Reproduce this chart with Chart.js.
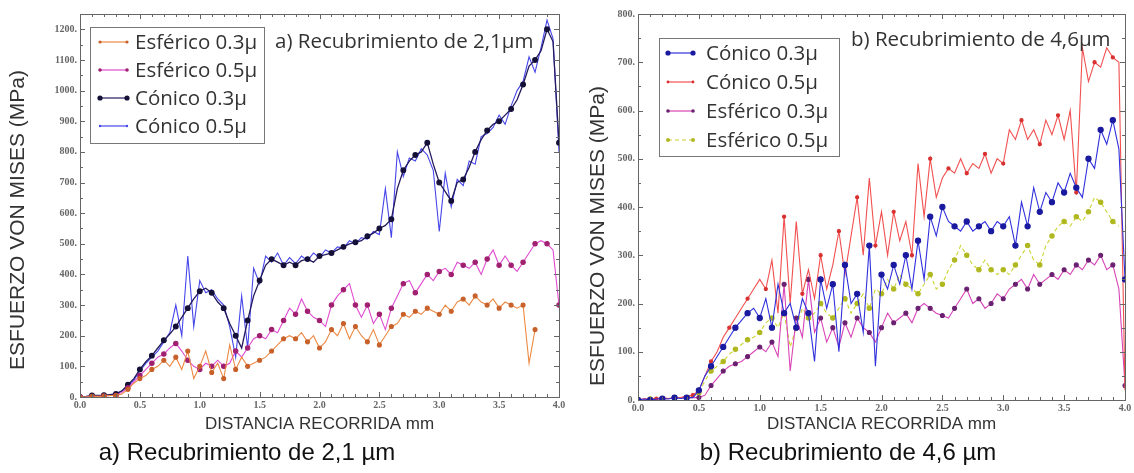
<!DOCTYPE html>
<html>
<head>
<meta charset="utf-8">
<script src="https://cdn.jsdelivr.net/npm/chart.js@4.4.1/dist/chart.umd.min.js"></script>
<style>
    body { margin:0; background:#fff; width:1134px; height:473px; overflow:hidden; position:relative; font-family:'Liberation Sans', Arial, sans-serif; }
    .panel { position:absolute; top:0; height:440px; }
    .caption { position:absolute; top:438px; font-size:24px; color:#111; text-align:center; white-space:nowrap; }
</style>
</head>
<body>
<div class="panel" style="left:0;width:570px"><canvas id="chartA"></canvas></div>
<div class="panel" style="left:570px;width:564px"><canvas id="chartB"></canvas></div>
<div class="caption" style="left:0;width:494px">a) Recubrimiento de 2,1 µm</div>
<div class="caption" style="left:600px;width:496px">b) Recubrimiento de 4,6 µm</div>

<script>
// ===== data: distance (mm) and von Mises stress (MPa) =====
const distancia = [
    0, 0.05, 0.1, 0.15, 0.2, 0.25, 0.3, 0.35, 0.4, 0.45,
    0.5, 0.55, 0.6, 0.65, 0.7, 0.75, 0.8, 0.85, 0.9, 0.95,
    1.0, 1.05, 1.1, 1.15, 1.2, 1.25, 1.3, 1.35, 1.4, 1.45,
    1.5, 1.55, 1.6, 1.65, 1.7, 1.75, 1.8, 1.85, 1.9, 1.95,
    2.0, 2.05, 2.1, 2.15, 2.2, 2.25, 2.3, 2.35, 2.4, 2.45,
    2.5, 2.55, 2.6, 2.65, 2.7, 2.75, 2.8, 2.85, 2.9, 2.95,
    3.0, 3.05, 3.1, 3.15, 3.2, 3.25, 3.3, 3.35, 3.4, 3.45,
    3.5, 3.55, 3.6, 3.65, 3.7, 3.75, 3.8, 3.85, 3.9, 3.95,
    4.0
];
const xTicks = [0, 0.5, 1.0, 1.5, 2.0, 2.5, 3.0, 3.5, 4.0];

// a) Recubrimiento de 2,1 µm
const esferico03A = [
    0, 0, 2, 2, 3, 5, 5, 10, 25, 45,
    60, 70, 90, 100, 120, 100, 130, 90, 150, 60,
    100, 150, 80, 110, 60, 170, 90, 130, 100, 110,
    120, 130, 150, 170, 190, 200, 190, 210, 180, 200,
    160, 180, 220, 200, 240, 190, 230, 200, 180, 220,
    170, 200, 230, 240, 270, 260, 280, 270, 290, 280,
    270, 300, 280, 310, 320, 300, 330, 310, 300, 320,
    290, 310, 300, 290, 300, 110, 220, null, null, null,
    null
];
const esferico05A = [
    0, 0, 2, 2, 3, 5, 5, 15, 30, 50,
    70, 90, 110, 130, 140, 160, 175, 150, 120, 100,
    90, 110, 100, 120, 100, 110, 150, 130, 160, 190,
    200, 190, 220, 210, 250, 290, 270, 320, 280, 260,
    250, 230, 300, 330, 350, 370, 300, 260, 300, 240,
    270, 220, 290, 330, 370, 380, 340, 370, 400, 380,
    410, 420, 400, 440, 430, 420, 440, 400, 450, 480,
    430, 460, 430, 410, 440, 470, 500, 510, 500, 480,
    300
];
const conico03A = [
    0, 2, 5, 5, 6, 8, 10, 20, 40, 60,
    90, 115, 135, 160, 185, 205, 230, 260, 290, 320,
    345, 355, 340, 310, 290, 240, 200, 160, 250, 330,
    380, 430, 450, 440, 430, 440, 430, 445, 450, 440,
    460, 465, 470, 480, 490, 500, 505, 510, 525, 535,
    550, 560, 580, 680, 740, 770, 790, 800, 830, 760,
    700, 670, 640, 700, 710, 750, 800, 840, 870, 890,
    900, 920, 940, 970, 1020, 1080, 1100, 1130, 1200, 1160,
    830
];
const conico05A = [
    0, 0, 5, 5, 5, 5, 10, 20, 35, 55,
    85, 110, 130, 150, 180, 210, 300, 200, 460, 230,
    380, 340, 350, 320, 300, 230, 130, 330, 160, 420,
    370, 460, 440, 470, 430, 455, 435, 460, 445, 470,
    455, 480, 470, 490, 485, 510, 500, 520, 515, 540,
    530, 680, 520, 800, 720, 780, 770, 810, 790, 740,
    540, 730, 620, 710, 690, 770, 760, 850, 860, 880,
    920, 890, 950, 1000, 1030, 1110, 1060, 1140, 1230, 1170,
    800
];

// b) Recubrimiento de 4,6 µm
const conico03B = [
    0, 2, 0, 2, 3, 2, 5, 3, 5, 5,
    20, 50, 70, 90, 110, 130, 150, 165, 180, 190,
    170, 210, 150, 240, 180, 200, 150, 210, 180, 80,
    250, 190, 240, 100, 280, 200, 220, 140, 320, 70,
    260, 230, 280, 240, 300, 230, 330, 250, 380, 340,
    400, 370, 360, 350, 370, 350, 360, 370, 350, 370,
    360, 380, 320, 410, 360, 440, 390, 430, 410, 450,
    430, 470, 440, 420, 500, 480, 560, 530, 580, 520,
    250
];
const conico05B = [
    0, 3, 2, 3, 5, 3, 5, 5, 8, 10,
    20, 50, 80, 100, 130, 150, 170, 190, 210, 230,
    250, 230, 290, 180, 380, 200, 370, 220, 270, 210,
    300, 230, 280, 350, 260, 340, 420, 300, 460, 320,
    390, 300, 390, 330, 370, 300, 490, 380, 500, 420,
    460, 480, 470, 500, 470, 490, 480, 510, 470, 500,
    490, 560, 540, 580, 540, 560, 530, 580, 550, 590,
    540, 600, 430, 730, 660, 700, 690, 730, 710, 700,
    20
];
const esferico03B = [
    0, 0, 0, 2, 2, 3, 3, 5, 5, 5,
    5, 10, 30, 45, 60, 70, 75, 80, 90, 100,
    110, 100, 120, 90, 240, 60, 170, 130, 250, 140,
    170, 120, 150, 110, 160, 130, 170, 150, 140, 120,
    150, 180, 160, 170, 180, 160, 190, 200, 190, 180,
    175, 170, 190, 210, 230, 200, 210, 190, 200, 220,
    210, 230, 240, 250, 230, 260, 240, 250, 260, 250,
    270, 260, 280, 270, 290, 280, 300, 270, 280, 230,
    30
];
const esferico05B = [
    0, 0, 2, 3, 2, 3, 5, 5, 5, 8,
    15, 40, 60, 70, 80, 95, 105, 115, 125, 130,
    140, 160, 170, 150, 180, 110, 150, 190, 170, 180,
    200, 180, 170, 190, 210, 180, 200, 220, 190, 230,
    220, 250, 230, 260, 240, 230, 220, 240, 260, 230,
    240, 270, 290, 320, 300, 280, 270, 290, 270, 260,
    270, 260, 280, 300, 320, 290, 280, 320, 340, 360,
    370, 360, 380, 370, 390, 420, 410, 390, 370, 360,
    null
];

// ===== helpers =====
const pts = ys => distancia.map((x, i) => ({ x: x, y: ys[i] }));

function serie(label, ys, color, dotColor, dotR, every, extra) {
    return Object.assign({
        label: label,
        data: pts(ys),
        borderColor: color,
        backgroundColor: dotColor,
        pointBackgroundColor: dotColor,
        pointBorderColor: dotColor,
        borderWidth: 1.1,
        pointRadius: c => (c.dataIndex % every === 0 ? dotR : 0),
        tension: 0,
        spanGaps: false
    }, extra || {});
}

// frame, inward ticks, y title, in-plot title and boxed legend
const panelDeco = {
    id: 'panelDeco',
    afterDatasetsDraw(chart, args, o) {
        const { ctx, chartArea: a, scales: { x, y } } = chart;
        ctx.save();
        ctx.strokeStyle = '#666';
        ctx.lineWidth = 1;
        ctx.strokeRect(Math.round(a.left) + 0.5, Math.round(a.top) + 0.5, Math.round(a.right - a.left), Math.round(a.bottom - a.top));

        ctx.beginPath();
        for (let v = 0; v <= 40; v++) {
            const px = Math.round(x.getPixelForValue(v / 10)) + 0.5;
            const len = v % 5 === 0 ? 5 : 3;
            ctx.moveTo(px, a.bottom); ctx.lineTo(px, a.bottom - len);
            ctx.moveTo(px, a.top); ctx.lineTo(px, a.top + len);
        }
        for (let v = 0; v <= y.max; v += 50) {
            const py = Math.round(y.getPixelForValue(v)) + 0.5;
            const len = v % 100 === 0 ? 5 : 3;
            ctx.moveTo(a.left, py); ctx.lineTo(a.left + len, py);
            ctx.moveTo(a.right, py); ctx.lineTo(a.right - len, py);
        }
        ctx.stroke();

        // y axis title
        ctx.save();
        ctx.translate(o.yTitleX, o.yTitleY);
        ctx.rotate(-Math.PI / 2);
        ctx.font = "21px 'Liberation Sans'";
        ctx.fillStyle = '#333';
        ctx.textAlign = 'center';
        ctx.textBaseline = 'middle';
        ctx.fillText('ESFUERZO VON MISES (MPa)', 0, 0);
        ctx.restore();

        ctx.fillStyle = '#333';
        ctx.font = o.titleFont;
        ctx.textBaseline = 'middle';
        ctx.fillText(o.title, o.titleX, o.titleY);

        const L = o.legend;
        ctx.fillStyle = '#fff';
        ctx.fillRect(L.x, L.y, L.w, L.h);
        ctx.strokeStyle = '#777';
        ctx.strokeRect(L.x + 0.5, L.y + 0.5, L.w, L.h);
        ctx.font = o.legendFont;
        chart.data.datasets.forEach((d, i) => {
            const yy = L.row0 + i * L.gap;
            ctx.strokeStyle = d.borderColor;
            ctx.lineWidth = 1.2;
            ctx.setLineDash(d.borderDash || []);
            ctx.beginPath(); ctx.moveTo(L.s0, yy); ctx.lineTo(L.s1, yy); ctx.stroke();
            ctx.setLineDash([]);
            ctx.fillStyle = d.pointBackgroundColor;
            [L.s0, L.s1].forEach(sx => { ctx.beginPath(); ctx.arc(sx, yy, d.legendDot, 0, Math.PI * 2); ctx.fill(); });
            ctx.fillStyle = '#333';
            ctx.fillText(d.label, L.tx, yy + 1);
        });
        ctx.restore();
    }
};

function makeChart(id, datasets, yMax, yWidth, xHeight, padRight, deco) {
    new Chart(document.getElementById(id), {
        type: 'line',
        data: { datasets: datasets },
        plugins: [panelDeco],
        options: {
            responsive: true, maintainAspectRatio: false, animation: false,
            layout: { padding: { top: 14, right: padRight, bottom: 0, left: 0 } },
            plugins: { legend: { display: false }, tooltip: { enabled: false }, panelDeco: deco },
            scales: {
                x: {
                    type: 'linear', min: 0, max: 4,
                    afterBuildTicks: s => { s.ticks = xTicks.map(v => ({ value: v })); },
                    afterFit: s => { s.height = xHeight; },
                    grid: { display: false, drawTicks: false }, border: { display: false },
                    ticks: { color: '#666', padding: 2, maxRotation: 0, font: { family: 'Liberation Serif', size: 10, weight: 'bold' }, callback: v => v.toFixed(1) },
                    title: { display: true, text: 'DISTANCIA RECORRIDA mm', color: '#333', padding: { top: 0, bottom: 5 }, font: { family: "'Liberation Sans Narrow', 'Liberation Sans'", size: 17 } }
                },
                y: {
                    min: 0, max: yMax,
                    afterBuildTicks: s => { s.ticks = s.ticks.filter(t => t.value % 100 === 0); },
                    afterFit: s => { s.width = yWidth; },
                    grid: { display: false, drawTicks: false }, border: { display: false },
                    ticks: { stepSize: 100, color: '#666', padding: 3, font: { family: 'Liberation Serif', size: 10, weight: 'bold' }, callback: v => v + '.' },
                    title: { display: false }
                }
            }
        }
    });
}

makeChart('chartA', [
    serie('Esférico 0.3µ', esferico03A, '#ec8a44', '#c8602a', 2, 2, { legendDot: 1.6 }),
    serie('Esférico 0.5µ', esferico05A, '#e04cd0', '#a02070', 2.2, 2, { legendDot: 1.8 }),
    serie('Cónico 0.3µ', conico03A, '#241a5c', '#141038', 2.3, 2, { legendDot: 2.6, borderWidth: 1.3 }),
    serie('Cónico 0.5µ', conico05A, '#4646ea', '#4646ea', 0, 1, { legendDot: 1.2, order: 1 })
], 1250, 80, 43, 11, {
    yTitleX: 18, yTitleY: 220,
    title: 'a) Recubrimiento de 2,1µm', titleX: 275, titleY: 42, titleFont: "20.5px 'Open Sans'",
    legendFont: "20.5px 'Open Sans'",
    legend: { x: 90, y: 27, w: 174, h: 116, row0: 42, gap: 28, s0: 100, s1: 127, tx: 135 }
});

makeChart('chartB', [
    serie('Cónico 0.3µ', conico03B, '#3030dc', '#1a1aa0', 2.6, 2, { legendDot: 2.6 }),
    serie('Cónico 0.5µ', conico05B, '#f25050', '#d83030', 1.6, 3, { legendDot: 1.4 }),
    serie('Esférico 0.3µ', esferico03B, '#d844b8', '#6a2070', 2, 2, { legendDot: 1.8 }),
    serie('Esférico 0.5µ', esferico05B, '#ccd430', '#b0b820', 2.2, 2, { legendDot: 2, borderDash: [4, 3] })
], 800, 68, 40, 9, {
    yTitleX: 28, yTitleY: 236,
    title: 'b) Recubrimiento de 4,6µm', titleX: 281, titleY: 40, titleFont: "20.5px 'Open Sans'",
    legendFont: "20.5px 'Open Sans'",
    legend: { x: 89, y: 38, w: 180, h: 118, row0: 53, gap: 29, s0: 98, s1: 123, tx: 136 }
});
</script>
</body>
</html>
